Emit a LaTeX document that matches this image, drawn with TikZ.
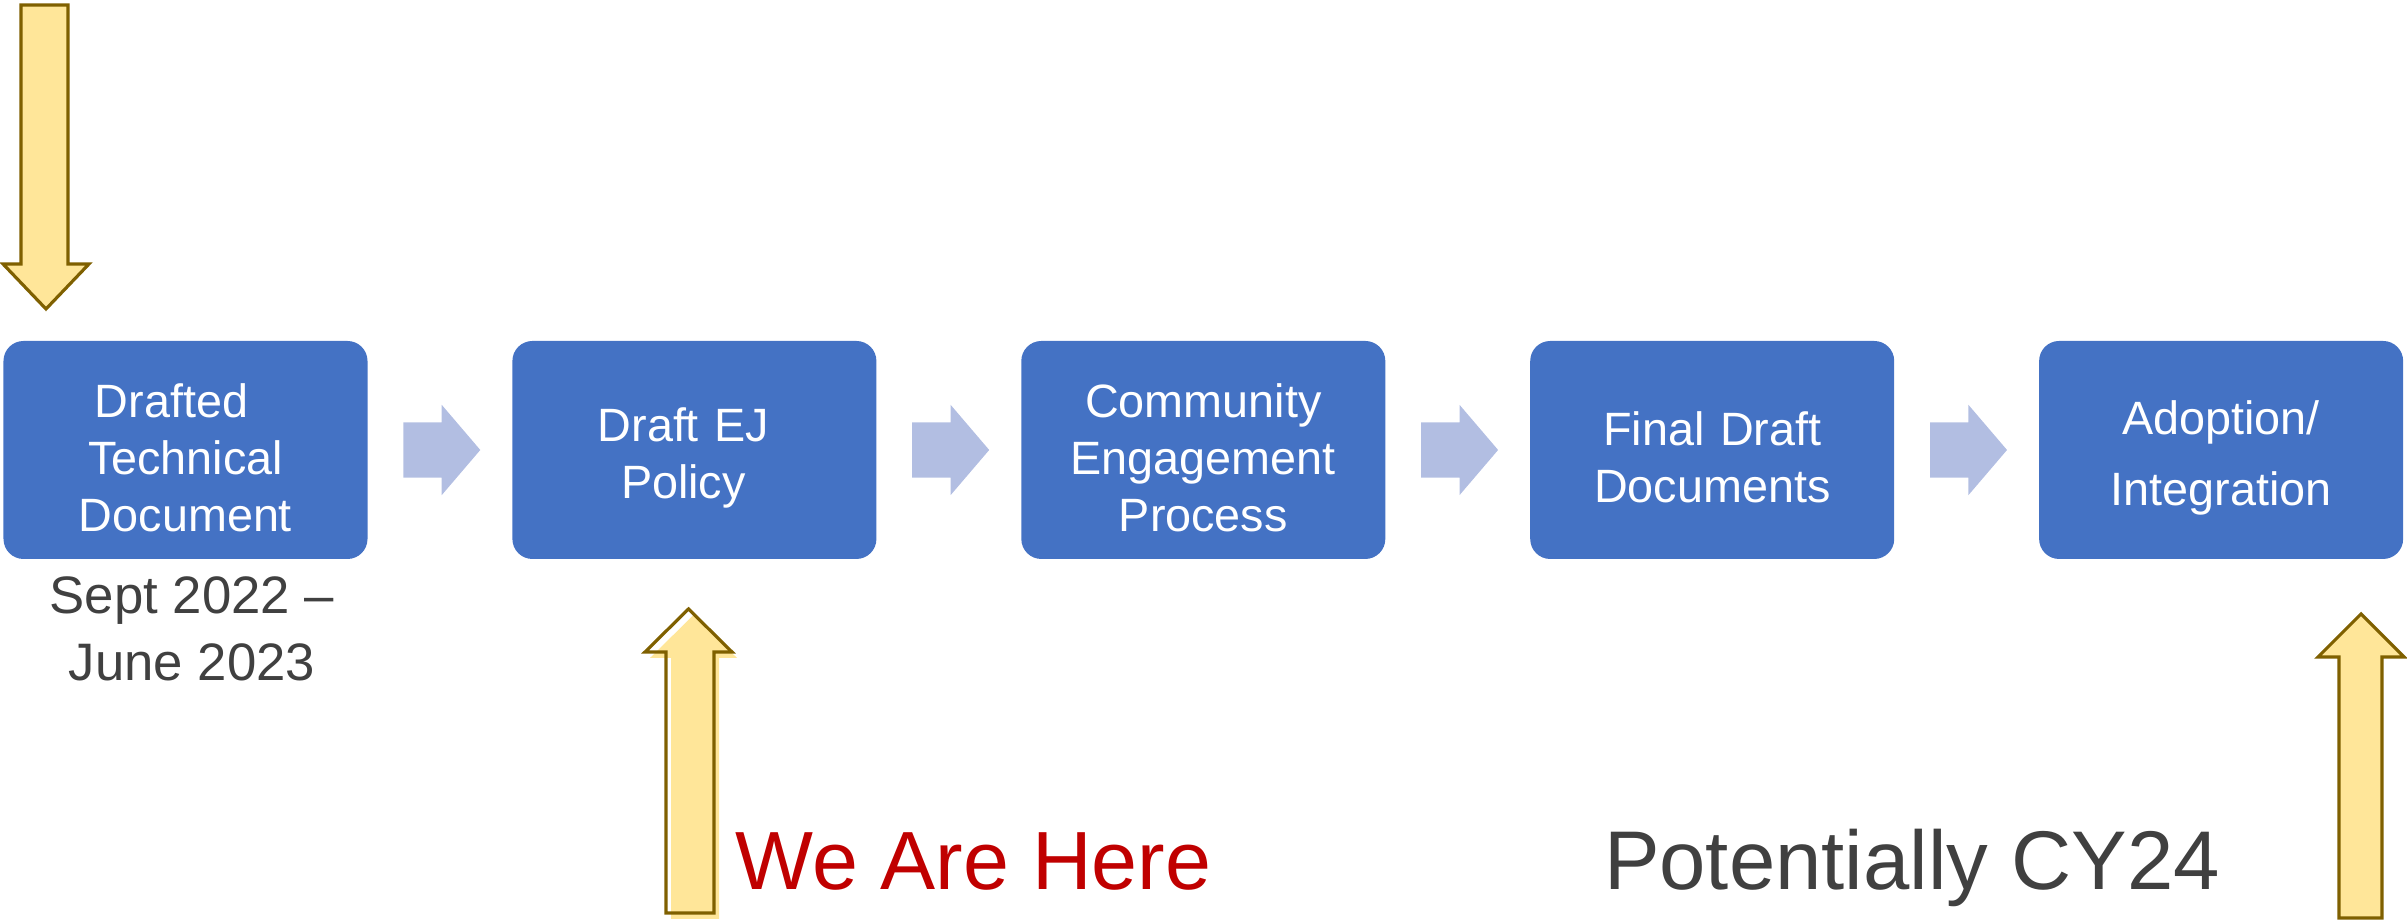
\documentclass[tikz,border=0pt]{standalone}
\usepackage{fontspec}
\setmainfont{Liberation Sans}
\usetikzlibrary{positioning,shapes.arrows}

\definecolor{stageblue}{HTML}{4472C4}
\definecolor{flowblue}{RGB}{178,190,226}
\definecolor{markfill}{HTML}{FFE699}
\definecolor{markline}{HTML}{7F6000}
\definecolor{heretext}{HTML}{C00000}
\definecolor{greytext}{HTML}{404040}

\begin{document}
\begin{tikzpicture}[
    stage/.style={fill=stageblue, rounded corners=0.2cm, minimum width=3.64cm,
        minimum height=2.18cm, inner sep=0pt, text width=3.64cm, align=center,
        text=white, font=\fontsize{13.3}{16.2}\selectfont,
        execute at begin node={\rule{0pt}{0.49cm}}},
    flowarrow/.style={single arrow, fill=flowblue, inner xsep=0pt, inner ysep=0.27cm,
        minimum height=0.77cm, single arrow head extend=0.175cm,
        single arrow tip angle=99, xshift=-0.1cm},
    marker/.style={draw=markline, line width=0.9pt},
    note/.style={text=greytext, align=center}
]
    \useasboundingbox (0,0) rectangle (24.07,9.22);

    % Stages
    \node[stage] (drafted) at (1.855,4.72)
        {Drafted\hspace*{0.28cm}\mbox{}\\Technical\\Document};
    \node[stage, right=1.435cm of drafted] (policy)
        {Draft EJ\hspace*{0.22cm}\mbox{}\\Policy\hspace*{0.22cm}\mbox{}};
    \node[stage, right=1.435cm of policy] (engage) {Community\\Engagement\\Process};
    \node[stage, right=1.435cm of engage] (final) {Final Draft\\Documents};
    \node[stage, right=1.435cm of final] (adopt) {Adoption/\\[4pt]Integration};

    % Flow between stages
    \foreach \a/\b in {drafted/policy, policy/engage, engage/final, final/adopt} {
        \path (\a) -- node[flowarrow] (\a-next) {} (\b);
    }

    % Dates under first stage
    \node[note, font=\fontsize{15}{19}\selectfont] (dates) at (1.92,2.93)
        {Sept 2022 --\\June 2023};

    % Markers
    \draw[marker, fill=markfill] (0.21,9.17) -- (0.68,9.17) -- (0.68,6.58)
        -- (0.89,6.58) -- (0.46,6.13) -- (0.03,6.58) -- (0.21,6.58) -- cycle;

    \fill[markfill, shift={(0.05,-0.06)}] (6.66,0.09) -- (6.66,2.70) -- (6.45,2.70)
        -- (6.885,3.13) -- (7.32,2.70) -- (7.14,2.70) -- (7.14,0.09) -- cycle;
    \draw[marker] (6.66,0.09) -- (6.66,2.70) -- (6.45,2.70)
        -- (6.885,3.13) -- (7.32,2.70) -- (7.14,2.70) -- (7.14,0.09) -- cycle;

    \draw[marker, fill=markfill] (23.39,0.04) -- (23.39,2.65) -- (23.18,2.65)
        -- (23.61,3.08) -- (24.04,2.65) -- (23.82,2.65) -- (23.82,0.04) -- cycle;

    % Labels
    \node[anchor=base, text=heretext, font=\fontsize{23.5}{28}\selectfont] (here)
        at (9.735,0.32) {We Are Here};
    \node[anchor=base, text=greytext, font=\fontsize{23.7}{28}\selectfont] (cy)
        at (19.12,0.32) {Potentially CY24};
\end{tikzpicture}
\end{document}
